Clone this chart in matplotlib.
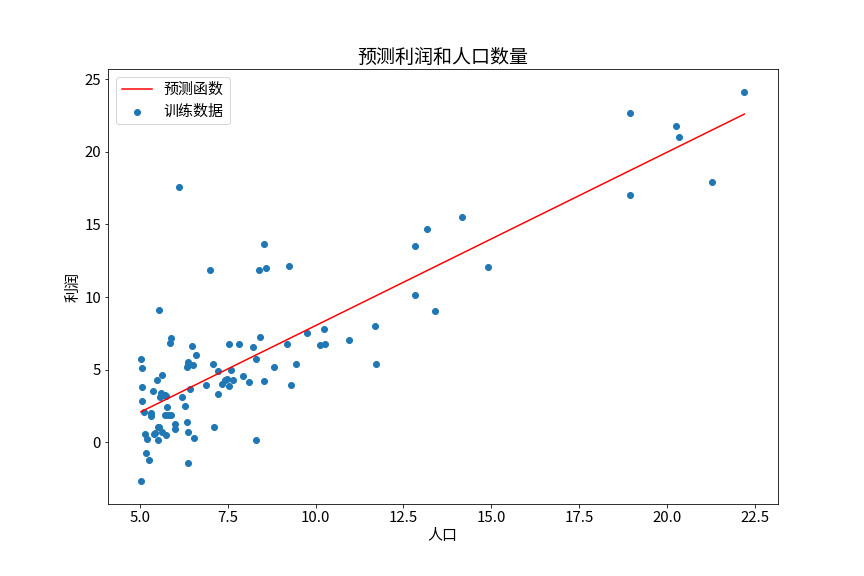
import matplotlib
matplotlib.use('Agg')
import matplotlib.pyplot as plt

plt.rcParams['font.family'] = ['Noto Sans CJK SC', 'DejaVu Sans']
plt.rcParams['axes.unicode_minus'] = False

population = [6.1101, 5.5277, 8.5186, 7.0032, 5.8598, 8.3829, 7.4764, 8.5781, 6.4862, 5.0546,
              5.7107, 14.164, 5.734, 8.4084, 5.6407, 5.3794, 6.3654, 5.1301, 6.4296, 7.0708,
              6.1891, 20.27, 5.4901, 6.3261, 5.5649, 18.945, 12.828, 10.957, 13.176, 22.203,
              5.2524, 6.5894, 9.2482, 5.8918, 8.2111, 7.9334, 8.0959, 5.6063, 12.836, 6.3534,
              5.4069, 6.8825, 11.708, 5.7737, 7.8247, 7.0931, 5.0702, 5.8014, 11.7, 5.5416,
              7.5402, 5.3077, 7.4239, 7.6031, 6.3328, 6.3589, 6.2742, 5.6397, 9.3102, 9.4536,
              8.8254, 5.1793, 21.279, 14.908, 18.959, 7.2182, 8.2951, 10.236, 5.4994, 20.341,
              10.136, 7.3345, 6.0062, 7.2259, 5.0269, 6.5479, 7.5386, 5.0365, 10.274, 5.1077,
              5.7292, 5.1884, 6.3557, 9.7687, 6.5159, 8.5172, 9.1802, 6.002, 5.5204, 5.0594,
              5.7077, 7.6366, 5.8707, 5.3054, 8.2934, 13.394, 5.4369]
profit = [17.592, 9.1302, 13.662, 11.854, 6.8233, 11.886, 4.3483, 12.0, 6.5987, 3.8166,
          3.2522, 15.505, 3.1551, 7.2258, 0.71618, 3.5129, 5.3048, 0.56077, 3.6518, 5.3893,
          3.1386, 21.767, 4.263, 5.1875, 3.0825, 22.638, 13.501, 7.0467, 14.692, 24.147,
          -1.22, 5.9966, 12.134, 1.8495, 6.5426, 4.5623, 4.1164, 3.3928, 10.117, 5.4974,
          0.55657, 3.9115, 5.3854, 2.4406, 6.7318, 1.0463, 5.1337, 1.844, 8.0043, 1.0179,
          6.7504, 1.8396, 4.2885, 4.9981, 1.4233, -1.4211, 2.4756, 4.6042, 3.9624, 5.4141,
          5.1694, -0.74279, 17.929, 12.054, 17.054, 4.8852, 5.7442, 7.7754, 1.0173, 20.992,
          6.6799, 4.0259, 1.2784, 3.3411, -2.6807, 0.29678, 3.8845, 5.7014, 6.7526, 2.0576,
          0.47953, 0.20421, 0.67861, 7.5435, 5.3436, 4.2415, 6.7981, 0.92695, 0.152, 2.8214,
          1.8451, 4.2959, 7.2029, 1.9869, 0.14454, 9.0551, 0.61705]

# fitted line end points
fit_x = [5.0269, 22.203]
fit_y = [2.1013, 22.5926]

fig, ax = plt.subplots(figsize=(12, 8), dpi=72)
fig.subplots_adjust(left=0.125, right=0.9, top=0.88, bottom=0.125)
ax.plot(fit_x, fit_y, 'r', label='预测函数')
ax.scatter(population, profit, label='训练数据')
ax.set_xlim(4.09, 23.15)
ax.set_ylim(-4.25, 25.69)
ax.legend(loc=2, fontsize=15)
ax.set_xlabel('人口', fontsize=15)
ax.set_ylabel('利润', fontsize=15)
ax.set_title('预测利润和人口数量', fontsize=19)
ax.tick_params(labelsize=15)
plt.savefig('out.png')
